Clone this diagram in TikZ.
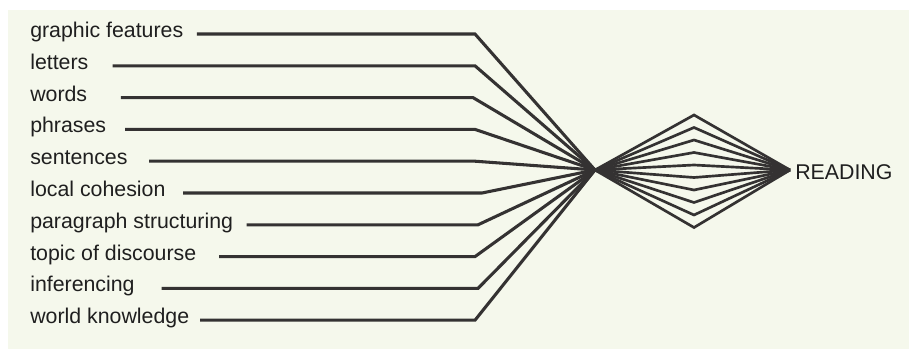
\documentclass[tikz,border=0pt]{standalone}
\usepackage{fontspec}
\setmainfont{Liberation Sans}
\usepackage{tikz}
\usetikzlibrary{positioning, calc}
\definecolor{paper}{RGB}{245,248,236}
\definecolor{ink}{RGB}{52,50,50}

\begin{document}
\begin{tikzpicture}[
        x=0.75pt, y=-0.75pt,
        every node/.style={font=\fontsize{16}{19}\selectfont, text=black!88, inner sep=0pt},
        lbl/.style={anchor=mid west},
        wire/.style={draw=ink, line width=2.3pt}
    ]
        % scanned page
        \useasboundingbox (0,0) rectangle (909,349);
        \fill[white] (0,0) rectangle (909,349);
        \fill[paper] (8,10) rectangle (909,349);

        \node[lbl] (graphic) at (30,34) {graphic features};
        \node[lbl] (letters) at (30,65.8) {letters};
        \node[lbl] (words) at (30,97.6) {words};
        \node[lbl] (phrases) at (30,129.4) {phrases};
        \node[lbl] (sentences) at (30,161.2) {sentences};
        \node[lbl] (cohesion) at (30,193) {local cohesion};
        \node[lbl] (paragraph) at (30,224.8) {paragraph structuring};
        \node[lbl] (topic) at (30,256.6) {topic of discourse};
        \node[lbl] (inferencing) at (30,288.4) {inferencing};
        \node[lbl] (knowledge) at (30,320.2) {world knowledge};

        \coordinate (hub) at (595,170);
        \node[anchor=west] (reading) at (795,172) {READING};
        \coordinate (tip) at (790,170);

        \draw[wire] ([xshift=10]graphic.mid east) -- (475,34) -- (hub);
        \draw[wire] ([xshift=18]letters.mid east) -- (475,65.8) -- (hub);
        \draw[wire] ([xshift=25]words.mid east) -- (473,97.6) -- (hub);
        \draw[wire] ([xshift=14]phrases.mid east) -- (475,129.4) -- (hub);
        \draw[wire] ([xshift=16]sentences.mid east) -- (475,161.2) -- (hub);
        \draw[wire] ([xshift=13]cohesion.mid east) -- (482,193) -- (hub);
        \draw[wire] ([xshift=10]paragraph.mid east) -- (478,224.8) -- (hub);
        \draw[wire] ([xshift=17]topic.mid east) -- (475,256.6) -- (hub);
        \draw[wire] ([xshift=20]inferencing.mid east) -- (478,288.4) -- (hub);
        \draw[wire] ([xshift=8]knowledge.mid east) -- (475,320.2) -- (hub);

        % the diamond
        \foreach \k in {0,...,9}
            \draw[wire, line width=2pt] (hub) -- (694,115+12.5*\k) -- (tip);
    \end{tikzpicture}
\end{document}
